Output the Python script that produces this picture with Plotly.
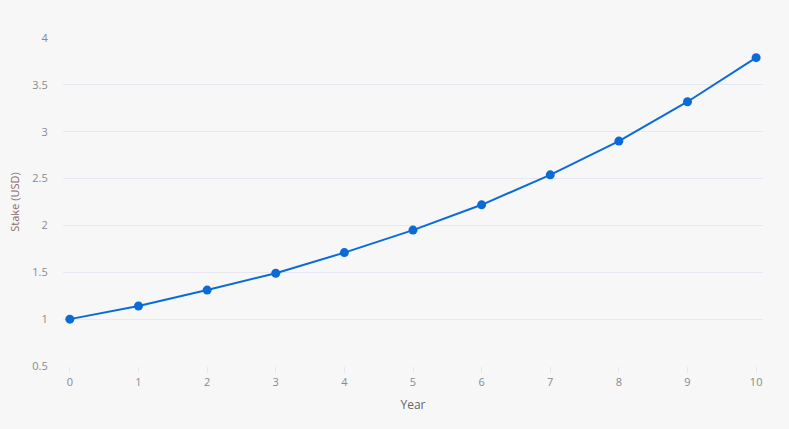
import plotly.graph_objects as go

years = [0, 1, 2, 3, 4, 5, 6, 7, 8, 9, 10]
stake = [1.00, 1.14, 1.31, 1.49, 1.71, 1.95, 2.22, 2.54, 2.90, 3.32, 3.79]
y_ticks = [0.5, 1, 1.5, 2, 2.5, 3, 3.5, 4]

fig = go.Figure(go.Scatter(
    x=years, y=stake, mode="lines+markers",
    line=dict(color="#0a6bd8", width=2),
    marker=dict(color="#0a6bd8", size=9),
    hoverinfo="x+y",
))

fig.update_layout(
    width=789, height=429,
    margin=dict(l=63, r=26, t=38, b=63),
    paper_bgcolor="#f7f7f8", plot_bgcolor="#f7f7f8",
    font=dict(family="Open Sans, sans-serif", size=11, color="#8a8a8a"),
    showlegend=False,
    xaxis=dict(
        range=[-0.1, 10.1], tickvals=years, showgrid=False, zeroline=False,
        ticks="outside", ticklen=6, tickcolor="#e6e6ee", tickwidth=1,
        title=dict(text="Year", font=dict(size=12, color="#666666"), standoff=12),
        tickfont=dict(color="#8a8a8a"),
    ),
    yaxis=dict(
        range=[0.5, 4], tickvals=y_ticks, showgrid=True, gridcolor="#e8e8f2",
        zeroline=False, ticks="outside", ticklen=12, tickcolor="rgba(0,0,0,0)",
        title=dict(text="Stake (USD)", font=dict(size=11, color="#8a6a6a"), standoff=10),
        tickfont=dict(color="#8a8a8a"),
    ),
)

fig.write_html(
    "out.html",
    config={"displayModeBar": False},
    post_script="document.body.style.margin='0';document.body.style.background='#f7f7f8';",
)
